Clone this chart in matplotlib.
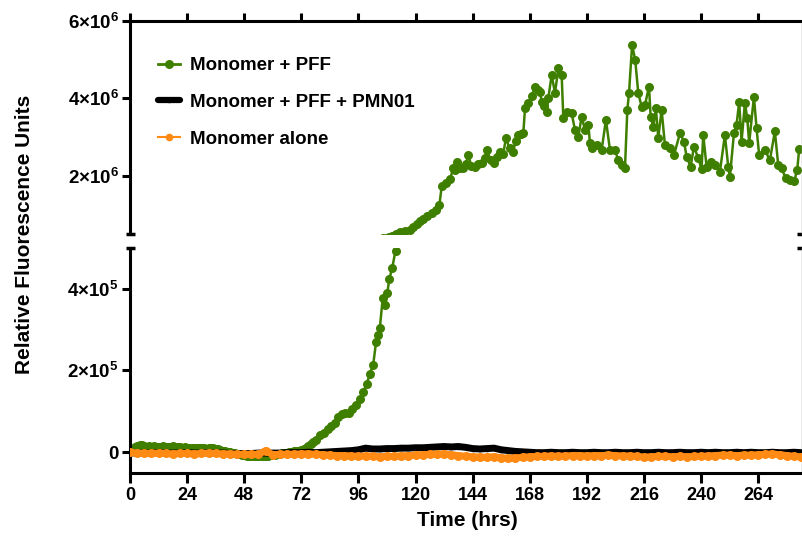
import numpy as np
import matplotlib
matplotlib.use("Agg")
import matplotlib.pyplot as plt
from matplotlib.lines import Line2D

plt.rcParams["font.family"] = ["Liberation Sans", "DejaVu Sans"]
plt.rcParams["font.weight"] = "bold"
plt.rcParams["mathtext.fontset"] = "custom"
plt.rcParams["mathtext.rm"] = "Liberation Sans:bold"
plt.rcParams["mathtext.it"] = "Liberation Sans:bold"
plt.rcParams["mathtext.bf"] = "Liberation Sans:bold"
plt.rcParams["mathtext.default"] = "bf"

# ---- data (fluorescence in thousands of RFU) ----
green_t = list(range(0, 79)) + [
    79.8, 81.5, 83, 84.5, 86, 87.5, 89, 90.5, 92, 93.5, 95, 96.6, 98, 99.5, 100.8,
    102.2, 103.4, 104.3, 105, 106.2, 107.1, 108.1, 109, 110.2, 111.6,
    113.4, 115.5, 117.6, 119, 120.5, 122, 123.2, 125, 126.8, 128.5, 130.0, 131.0,
    132.8, 134.5, 135.8, 136.6, 137.3, 138.6, 140.0, 141.2, 142.1, 143.5, 145.0,
    146.4, 147.8, 149.0, 150.1, 151.5, 152.9, 154.2, 155.5, 156.8, 158.0, 159.5,
    161.0, 162.1, 163.2, 164.3, 165.3, 166.0, 167.4, 168.8, 170.2, 171.3, 172.3,
    173.0, 174.0, 175.1, 175.8, 177.2, 178.6, 180.0, 181.4, 182.1, 183.5, 185.6,
    187.0, 188.4, 189.8, 191.2, 192.6, 193.3, 194.0, 196.1, 198.2, 200.0, 201.7,
    203.8, 205.2, 206.6, 208.0, 209.0, 209.7, 211.0, 212.3, 213.6, 215.0, 216.4,
    218.1, 218.8, 219.9, 221.0, 222.0, 223.4, 224.8, 226.9, 228.6, 231.1, 232.8,
    233.9, 235.6, 237.0, 238.8, 240.2, 240.9, 242.3, 244.0, 245.8, 247.9, 250.0,
    251.4, 252.1, 253.8, 254.9, 256.0, 257.0, 258.4, 259.4, 260.2, 262.2, 263.3,
    264.4, 266.8, 268.9, 271.0, 272.4, 273.8, 275.6, 277.3, 279.1, 280.4, 281.2,
]
green_v = [
    0, 8, 12, 15, 17, 18, 15, 14, 15, 13, 16, 14, 13, 14, 15, 13, 12, 14, 15, 13,
    12, 12, 11, 12, 11, 10, 11, 10, 10, 11, 11, 10, 9, 10, 11, 10, 9, 8, 6, 4,
    3, 1, 0, -2, -3, -4, -5, -6, -7, -8, -8, -9, -9, -8, -8, -9, -9, -8, -8, -7,
    -7, -6, -5, -4, -3, -2, -1, 0, 1, 2, 3, 4, 6, 8, 11, 15, 20, 25, 30,
    41, 48, 57, 65, 72, 85, 94, 95, 97, 105, 115, 130, 147, 167, 192,
    214, 269, 287, 304, 377, 360, 389, 424, 451, 493,
    555, 580, 600, 680, 750, 820, 875, 950, 1030, 1120, 1230, 1730,
    1820, 1910, 2190, 2150, 2360, 2200, 2190, 2300, 2530, 2250, 2230,
    2300, 2320, 2450, 2650, 2400, 2320, 2480, 2600, 2550, 2970, 2700,
    2620, 2900, 3050, 3080, 3110, 3740, 3870, 4060, 4280, 4200, 4170,
    3910, 3800, 3650, 4000, 4600, 4130, 4770, 4600, 3480, 3650, 3610,
    3180, 3000, 3520, 3180, 3310, 2840, 2710, 2790, 2660, 3440, 2660,
    2660, 2400, 2280, 2190, 3700, 4130, 5370, 4990, 4130, 3780, 3820,
    4300, 3520, 3260, 3740, 2970, 3700, 2790, 2710, 2530, 3090, 2880,
    2490, 2230, 2750, 2450, 2170, 3050, 2230, 2360, 2280, 2100, 3050,
    2230, 1970, 3090, 3310, 3910, 2880, 3870, 3480, 2840, 4040, 3220,
    2530, 2660, 2400, 3140, 2280, 2190, 1930, 1890, 1850, 2150, 2680,
]

# black and orange read every 3 h, 0..282
flat_t = np.arange(0, 283, 3)
black_v = [
    -1, -2, -2, -2, -1, -2, -2, -2, -1, -2, -2, -1, -2, -2, -3, -3, -3, -3, -2, -2,
    -2, -2, -1, -1, -1, 0, -1, 0, 1, 2, 3, 4, 6, 10, 8, 8, 9, 9, 10, 10,
    11, 11, 12, 13, 14, 13, 14, 12, 9, 8, 9, 10, 6, 4, 2, 1, 0, -1, -1, 0,
    -1, -1, 0, -1, -1, 0, -1, -1, 0, -1, -1, 0, -1, -1, 0, -1, -1, 0, -1, -1,
    0, -1, 0, -1, -1, 0, -1, 0, -1, -1, 0, -1, -1, 0, -1,
]
orange_v = [
    0, -2, -3, -3, -2, -3, -4, -3, -3, -4, -3, -2, -3, -4, -4, -5, -5, -5, -5, 4,
    -6, -5, -5, -5, -4, -4, -5, -6, -7, -8, -8, -9, -10, -9, -10, -11, -10, -10, -9, -8,
    -7, -6, -5, -5, -4, -6, -8, -10, -11, -12, -12, -11, -13, -15, -14, -12, -11, -10, -10, -9,
    -10, -9, -8, -8, -9, -8, -8, -7, -8, -9, -9, -10, -12, -11, -10, -10, -11, -10, -11, -10,
    -10, -9, -8, -7, -7, -8, -7, -7, -6, -5, -4, -6, -8, -10, -11,
]

labels = ["Monomer + PFF", "Monomer + PFF + PMN01", "Monomer alone"]
colors = ["#3f7f00", "#000000", "#ff8a14"]
xticks = list(range(0, 265, 24))

fig = plt.figure(figsize=(8.03, 5.36), dpi=100)
W, H = 803, 536
left, right = 130 / W, 802 / W
ax_top = fig.add_axes([left, (H - 233.7) / H, right - left, 213 / H])
ax_bot = fig.add_axes([left, (H - 472.7) / H, right - left, 225 / H])

for ax in (ax_top, ax_bot):
    ax.plot(green_t, np.array(green_v) * 1e3, color=colors[0], lw=1.8,
            marker="o", ms=6.5, mew=0, zorder=2)
    ax.plot(flat_t, np.array(black_v) * 1e3, color=colors[1], lw=5,
            marker="o", ms=4, mew=0, zorder=3)
    ax.plot(flat_t, np.array(orange_v) * 1e3, color=colors[2], lw=5,
            marker="o", ms=6.5, mew=0, zorder=4)
    ax.set_xlim(0, 282.4)
    ax.set_xticks(xticks)
    for s in ("left", "top", "bottom"):
        ax.spines[s].set_linewidth(2.2)
    ax.spines["right"].set_linewidth(1)
    ax.spines["right"].set_color("#9a9a9a")
    ax.tick_params(axis="y", direction="out", length=6, width=2.2, pad=2,
                   labelsize=13.5)

ax_top.set_ylim(5e5, 6e6)
ax_top.set_yticks([2e6, 4e6, 6e6])
ax_top.set_yticklabels([r"$2{\times}10^{6}$", r"$4{\times}10^{6}$", r"$6{\times}10^{6}$"])
ax_top.spines["bottom"].set_visible(False)
ax_top.tick_params(axis="x", top=True, bottom=False, labelbottom=False,
                   direction="out", length=6, width=2.2)

ax_bot.set_ylim(-5e4, 5e5)
ax_bot.set_yticks([0, 2e5, 4e5])
ax_bot.set_yticklabels(["0", r"$2{\times}10^{5}$", r"$4{\times}10^{5}$"])
ax_bot.spines["top"].set_visible(False)
ax_bot.tick_params(axis="x", direction="out", length=7, width=2.2, pad=3,
                   labelsize=13)

# break marks on the left and right spines
dx = 4.5 / 672
for xs in (0, 1):
    ax_top.plot([xs - dx, xs + dx], [0, 0], transform=ax_top.transAxes,
                color="k", lw=2.5, clip_on=False, solid_capstyle="butt")
    ax_bot.plot([xs - dx, xs + dx], [1, 1], transform=ax_bot.transAxes,
                color="k", lw=2.5, clip_on=False, solid_capstyle="butt")

fig.text(25 / W, (H - 234) / H, "Relative Fluorescence Units", rotation=90,
         ha="center", va="center", fontsize=15, fontweight="bold")
fig.text(467 / W, (H - 521) / H, "Time (hrs)", ha="center", va="center",
         fontsize=15, fontweight="bold")

# legend keys drawn like the original: thin lines with dots, heavy black bar
handles = [
    Line2D([], [], color=colors[0], lw=2, marker="o", ms=6.5, mew=0),
    Line2D([], [], color=colors[1], lw=4.5, marker="o", ms=4, mew=0,
           solid_capstyle="round"),
    Line2D([], [], color=colors[2], lw=1.5, marker="o", ms=5.5, mew=0),
]
fig.legend(handles, labels, loc="upper left",
           bbox_to_anchor=(158 / W, (H - 57) / H), frameon=False,
           prop={"size": 13.5, "weight": "bold"}, handlelength=1.2,
           handletextpad=0.5, labelspacing=1.05, borderpad=0,
           borderaxespad=0)

fig.savefig("out.png", dpi=100)
